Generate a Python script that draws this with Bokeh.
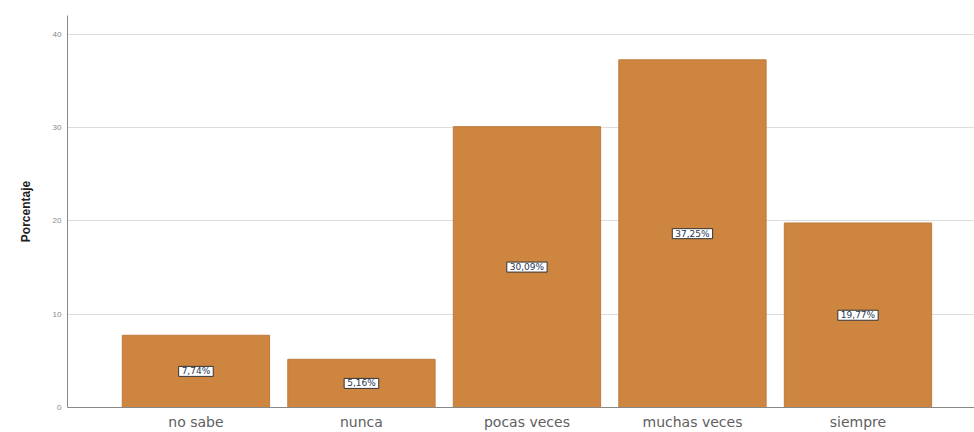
from bokeh.plotting import figure
from bokeh.models import ColumnDataSource, Label, FixedTicker, Range1d
from bokeh.embed import file_html
from bokeh.resources import INLINE

# Frequency answers (percentage of respondents)
categories = ["no sabe", "nunca", "pocas veces", "muchas veces", "siempre"]
percentages = [7.74, 5.16, 30.09, 37.25, 19.77]
y_ticks = [0, 10, 20, 30, 40]

positions = list(range(len(categories)))
labels = [f"{v:.2f}%".replace(".", ",") for v in percentages]
source = ColumnDataSource(dict(x=positions, top=percentages))

p = figure(
    width=974, height=432,
    output_backend="svg", toolbar_location=None,
    x_range=Range1d(-0.776, 4.704), y_range=Range1d(0, 42),
    min_border_left=67, min_border_right=0, min_border_top=15, min_border_bottom=24,
)
p.outline_line_color = None
p.background_fill_color = "white"

p.vbar(x="x", top="top", width=0.89, source=source,
       fill_color="#CD853F", line_color="#BE7B3C", line_width=1)

# boxed value label in the middle of each bar
for xi, v, txt in zip(positions, percentages, labels):
    p.add_layout(Label(
        x=xi, y=v / 2, text=txt,
        text_align="center", text_baseline="middle",
        text_font="DejaVu Sans", text_font_size="9px", text_color="#2a3550",
        background_fill_color="white", border_line_color="#333333",
        border_line_width=1, padding=(3, 0),
    ))

# x axis: categorical labels on numeric positions
p.xaxis.ticker = FixedTicker(ticks=positions)
p.xaxis.major_label_overrides = {i: c for i, c in enumerate(categories)}
p.xaxis.major_label_text_font = "DejaVu Sans"
p.xaxis.major_label_text_font_size = "14px"
p.xaxis.major_label_text_color = "#606060"
p.xaxis.major_label_standoff = 6
p.xaxis.major_tick_out = 0
p.xaxis.minor_tick_out = 0
p.xaxis.major_tick_line_color = None
p.xaxis.minor_tick_line_color = None
p.xaxis.axis_line_color = "#888888"

# y axis
p.yaxis.ticker = FixedTicker(ticks=y_ticks)
p.yaxis.axis_label = "Porcentaje"
p.yaxis.axis_label_text_font = "Liberation Sans"
p.yaxis.axis_label_text_font_style = "bold"
p.yaxis.axis_label_text_font_size = "12px"
p.yaxis.axis_label_text_color = "#222222"
p.yaxis.axis_label_standoff = 17
p.yaxis.major_label_text_font = "Liberation Sans"
p.yaxis.major_label_text_font_size = "8px"
p.yaxis.major_label_text_color = "#888888"
p.yaxis.major_label_standoff = 6
p.yaxis.major_tick_out = 0
p.yaxis.minor_tick_out = 0
p.yaxis.major_tick_line_color = None
p.yaxis.minor_tick_line_color = None
p.yaxis.axis_line_color = "#888888"

p.xgrid.grid_line_color = None
p.ygrid.ticker = FixedTicker(ticks=y_ticks[1:])
p.ygrid.grid_line_color = "#DDDDDD"
p.ygrid.grid_line_width = 1

open("out.html", "w").write(file_html(p, INLINE))
